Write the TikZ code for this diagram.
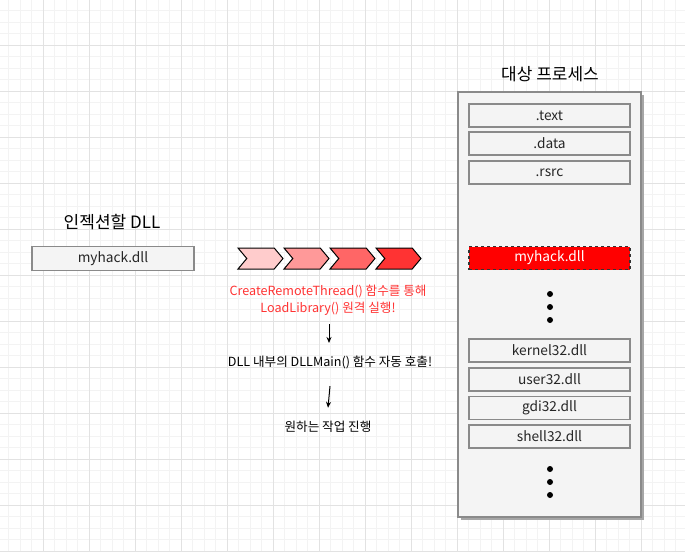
\documentclass[tikz,border=0pt]{standalone}
\usepackage{fontspec}
\setmainfont{Noto Sans CJK KR}
\usepackage{xcolor}
\usepackage{tikz}
\usetikzlibrary{arrows.meta, positioning, shapes.symbols}
\definecolor{gridminor}{HTML}{F3F3F3}
\definecolor{gridmajor}{HTML}{E2E2E2}
\definecolor{boxfill}{HTML}{F4F4F4}
\definecolor{boxline}{HTML}{8A8A8A}
\definecolor{hackred}{HTML}{FF0000}
\definecolor{calltext}{HTML}{FF3333}
\definecolor{chevA}{HTML}{FFCCCC}
\definecolor{chevB}{HTML}{FF9999}
\definecolor{chevC}{HTML}{FF6666}
\definecolor{chevD}{HTML}{FF3333}

\tikzset{
    secbox/.style={draw=boxline, fill=boxfill, line width=1.5pt, minimum width=161pt,
        minimum height=23pt, inner sep=0pt, font=\fontsize{13.7}{15}\selectfont, text=black!85},
    hackbox/.style={secbox, draw=black!80, fill=hackred, dashed, line width=1.2pt, text=white},
    chev/.style={signal, signal to=east, signal from=west, signal pointer angle=100,
        draw=black, line width=1pt, minimum width=45pt, minimum height=21pt, inner sep=0pt},
    dot/.style={circle, fill=black, inner sep=0pt, minimum size=6pt},
    title/.style={font=\fontsize{17}{19}\selectfont},
    stepnote/.style={font=\fontsize{12.6}{17}\selectfont, align=center}
}

\begin{document}
\begin{tikzpicture}[x=1pt, y=-1pt, >={Stealth[length=6pt, width=5pt]}]
    \useasboundingbox (0,0) rectangle (685,552);
    % ── grid ──────────────────────────────────────────────────────────
    \foreach \gx in {0,...,59}
        \draw[gridminor, line width=0.8pt] ({8.5+11.5*\gx}, 0) -- ++(0, 552);
    \foreach \gy in {0,...,47}
        \draw[gridminor, line width=0.8pt] (0, {10.5+11.5*\gy}) -- ++(685, 0);
    \foreach \gx in {0,...,14}
        \draw[gridmajor, line width=0.8pt] ({43+46*\gx}, 0) -- ++(0, 552);
    \foreach \gy in {0,...,11}
        \draw[gridmajor, line width=0.8pt] (0, {45+46*\gy}) -- ++(685, 0);

    % ── injected DLL ──────────────────────────────────────────────────
    \node[title] (injtitle) at (112, 222) {인젝션할 DLL};
    \node[secbox, minimum width=162pt, minimum height=24pt] (injdll) at (113, 258.5) {myhack.dll};

    % ── chevrons ──────────────────────────────────────────────────────
    \node[chev, fill=chevA] (c1) at (260.5, 258.5) {};
    \node[chev, fill=chevB] (c2) at (306.5, 258.5) {};
    \node[chev, fill=chevC] (c3) at (352.5, 258.5) {};
    \node[chev, fill=chevD] (c4) at (398.5, 258.5) {};

    % ── steps ─────────────────────────────────────────────────────────
    \node[stepnote, text=calltext] (crt) at (328, 300.5)
        {CreateRemoteThread() 함수를 통해\\LoadLibrary() 원격 실행!};
    \node[stepnote] (dllmain) at (330, 362) {DLL 내부의 DLLMain() 함수 자동 호출!};
    \node[stepnote] (work) at (328, 427) {원하는 작업 진행};
    \draw[->, line width=1pt] ([xshift=1pt, yshift=-5pt]crt.south) -- ([xshift=-1pt, yshift=9pt]dllmain.north);
    \draw[->, line width=1pt] ([yshift=-14pt]dllmain.south) -- ([yshift=10pt]work.north);

    % ── target process ────────────────────────────────────────────────
    \node[title] (proctitle) at (550, 74) {대상 프로세스};
    \fill[gray!70] (461, 95) rectangle (644, 520);
    \draw[boxline, fill=boxfill, line width=1.3pt] (458, 92) rectangle (641, 517);
    \node[secbox] (text) at (549.5, 115.5) {.text};
    \node[secbox] (data) at (549.5, 143.5) {.data};
    \node[secbox] (rsrc) at (549.5, 172.5) {.rsrc};
    \node[hackbox] (hack) at (549.5, 258) {myhack.dll};
    \foreach \dy in {294, 307, 320}
        \node[dot] at (550, \dy) {};
    \node[secbox] (kernel) at (549.5, 350.5) {kernel32.dll};
    \node[secbox] (user) at (549.5, 379.5) {user32.dll};
    \node[secbox] (gdi) at (549.5, 408) {gdi32.dll};
    \node[secbox] (shell) at (549.5, 436.5) {shell32.dll};
    \foreach \dy in {469, 482, 495}
        \node[dot] at (550, \dy) {};
\end{tikzpicture}
\end{document}
